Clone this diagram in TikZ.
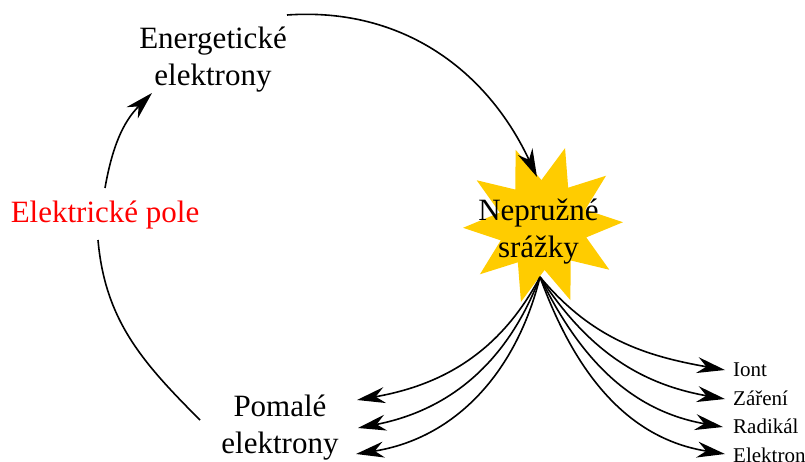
\documentclass[tikz,border=0pt]{standalone}
\usepackage{fontspec}
\setmainfont{Liberation Serif}
\newfontfamily\tnr{Liberation Serif}
\usetikzlibrary{arrows.meta}
\definecolor{stargold}{RGB}{255,204,0}
\begin{document}
\begin{tikzpicture}[x=1pt,y=1pt,
  big/.style={font=\tnr\fontsize{31}{37}\selectfont, align=center, inner sep=0pt},
  small/.style={font=\tnr\fontsize{21}{24}\selectfont, inner sep=0pt, anchor=base west},
  conn/.style={line width=1.6pt, -{Stealth[length=28pt,width=16pt,inset=9pt]}},
  plainline/.style={line width=1.6pt}]
\useasboundingbox (0,0) rectangle (805,461);
% star
\coordinate (sc) at (543,236);
\fill[stargold] ([shift={(2:80)}]sc)
  \foreach \i [evaluate=\i as \a using 2+36*\i, evaluate=\i as \b using 20+36*\i] in {0,...,9} {
    -- ([shift={(\a:80)}]sc) -- ([shift={(\b:45)}]sc) } -- cycle;
% texts
\node[big] (energ) at (213,401) {Energetické\\elektrony};
\node[big, text=red, anchor=base] (pole) at (105,239) {Elektrické pole};
\node[big] (star) at (538.5,229) {Nepružné\\srážky};
\node[big] (pomale) at (280,33.5) {Pomalé\\elektrony};
\node[small] (iont) at (733,85) {Iont};
\node[small] (zareni) at (733,56) {Záření};
\node[small] (radikal) at (733,28) {Radikál};
\node[small] (elektron) at (733,-1) {Elektron};
% connector end points
\coordinate (topA) at (287,446);
\coordinate (topB) at (537,284);
\coordinate (ulA) at (105,273);
\coordinate (ulB) at (152,368);
\coordinate (llA) at (200,41);
\coordinate (llB) at (98,221);
\coordinate (src) at (540,184);
\coordinate (r1) at (725,91);
\coordinate (r2) at (725,62);
\coordinate (r3) at (723,34);
\coordinate (r4) at (725,7);
\coordinate (l1) at (357,61);
\coordinate (l2) at (358,33);
\coordinate (l3) at (356,7);
% cycle
\draw[conn] (topA) to[out=4, in=115] (topB);
\draw[conn] (ulA) to[out=80, in=225] (ulB);
\draw[plainline] (llA) to[out=135, in=-85] (llB);
% products
\draw[conn] (src) to[out=-50, in=170] (r1);
\draw[conn] (src) to[out=-57, in=170] (r2);
\draw[conn] (src) to[out=-64, in=170] (r3);
\draw[conn] (src) to[out=-70, in=171] (r4);
\draw[conn] (src) to[out=-118, in=10] (l1);
\draw[conn] (src) to[out=-111, in=11] (l2);
\draw[conn] (src) to[out=-104, in=9] (l3);
\end{tikzpicture}
\end{document}
